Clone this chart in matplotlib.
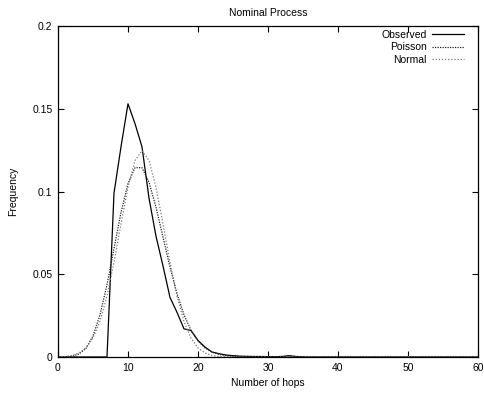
import matplotlib
matplotlib.use("Agg")
import matplotlib.pyplot as plt

plt.rcParams['font.family'] = ['Liberation Sans', 'DejaVu Sans']

# Data
hops = list(range(0, 61))
observed = [0, 0, 0, 0, 0, 0, 0, 0, 0.099, 0.127, 0.153, 0.141, 0.127, 0.096, 0.073,
            0.055, 0.036, 0.027, 0.017, 0.016, 0.010, 0.006, 0.003, 0.002, 0.0012,
            0.0008, 0.0005, 0.0004, 0.0003, 0.0003, 0.0002, 0.0002, 0.0003, 0.0008,
            0.0003, 0.0001] + [0] * 25
poisson = [0.000006, 0.00007, 0.00044, 0.0018, 0.0053, 0.0127, 0.0255, 0.0437,
           0.0655, 0.0874, 0.1048, 0.1144, 0.1144, 0.1056, 0.0905, 0.0724, 0.0543,
           0.0383, 0.0255, 0.0161, 0.0097, 0.0055, 0.0030, 0.0016, 0.0008, 0.0004,
           0.0002, 0.0001, 0.00004, 0.00002] + [0] * 31
normal = [0.00011, 0.00034, 0.00094, 0.0024, 0.0055, 0.0114, 0.0215, 0.0368,
          0.0571, 0.0803, 0.1026, 0.1187, 0.1247, 0.1187, 0.1026, 0.0803, 0.0571,
          0.0368, 0.0215, 0.0114, 0.0055, 0.0024, 0.00094, 0.00034, 0.00011] + [0] * 36

xticks = [0, 10, 20, 30, 40, 50, 60]
yticks = [0, 0.05, 0.1, 0.15, 0.2]
ytick_labels = ["0", "0.05", "0.1", "0.15", "0.2"]

fig = plt.figure(figsize=(4.85, 3.99), dpi=100)
ax = fig.add_axes([58 / 485, 1 - 357 / 399, 420 / 485, 331 / 399])

ax.plot(hops, observed, color='black', lw=0.9, label='Observed')
ax.plot(hops, poisson, color='#222222', lw=0.9, linestyle=(0, (1, 1)), label='Poisson')
ax.plot(hops, normal, color='#777777', lw=0.9, linestyle=(0, (1, 1.5)), label='Normal')

ax.set_xlim(0, 60)
ax.set_ylim(0, 0.2)
ax.set_xticks(xticks)
ax.set_xticklabels([str(t) for t in xticks])
ax.set_yticks(yticks)
ax.set_yticklabels(ytick_labels)
ax.tick_params(direction='in', length=4, width=0.8, top=True, right=True,
               labelsize=7.5, pad=4)
for s in ax.spines.values():
    s.set_linewidth(0.9)

ax.set_title('Nominal Process', fontsize=7.5, pad=7)
ax.set_xlabel('Number of hops', fontsize=7.5, labelpad=4)
ax.set_ylabel('Frequency', fontsize=7.5, labelpad=10)

leg = ax.legend(loc='upper right', bbox_to_anchor=((464 - 58) / 420, 1 - 4 / 331),
                frameon=False, markerfirst=False, fontsize=7.5, handlelength=3.1,
                handletextpad=0.5, labelspacing=0.22, borderpad=0, borderaxespad=0)

fig.savefig('out.png', dpi=100)
